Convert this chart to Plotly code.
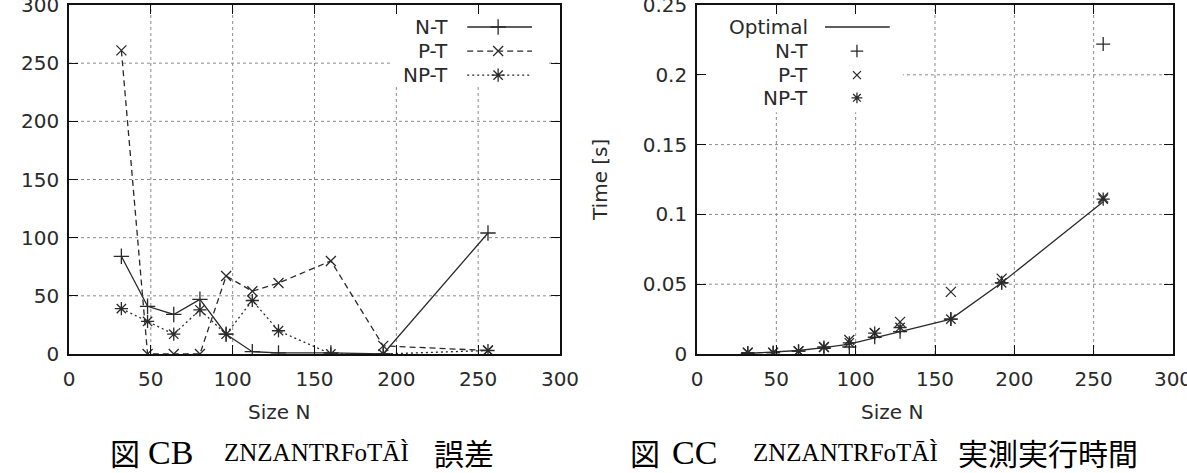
import plotly.graph_objects as go

# ---------------- data ----------------
sizes = [32, 48, 64, 80, 96, 112, 128, 160, 192, 256]

err_nt = [84, 41, 34, 47, 17, 2, 1, 1, 0, 104]
err_pt = [261, 0, 0, 0, 67, 54, 61, 80, 7, 3]
err_npt = [39, 28, 17, 38, 17, 46, 20, 0, 0, 3]

time_opt = [0.0004, 0.0012, 0.0025, 0.0045, 0.007, 0.0115, 0.016, 0.025, 0.051, 0.109]
time_nt = [0.0005, 0.001, 0.002, 0.004, 0.005, 0.012, 0.016, 0.025, 0.051, 0.222]
time_pt = [0.001, 0.001, 0.002, 0.005, 0.010, 0.015, 0.023, 0.0445, 0.054, 0.112]
time_npt = [0.001, 0.001, 0.002, 0.005, 0.008, 0.015, 0.019, 0.025, 0.051, 0.111]

x_ticks = [0, 50, 100, 150, 200, 250, 300]
err_ticks = [0, 50, 100, 150, 200, 250, 300]
time_ticks = [0, 0.05, 0.1, 0.15, 0.2, 0.25]
time_tick_text = ["0", "0.05", "0.1", "0.15", "0.2", "0.25"]

legend_left = ["N-T", "P-T", "NP-T"]
legend_right = ["Optimal", "N-T", "P-T", "NP-T"]

# ---------------- style ----------------
W, H = 1187, 473
INK = "#2a2a2a"
FONT = "DejaVu Sans"
FS = 20

def px_x(p):
    return p / W

def px_y(p):
    return (H - p) / H

left_dom = [px_x(69), px_x(560)]
right_dom = [px_x(697), px_x(1173)]
y_dom = [px_y(354), px_y(5)]

sym_nt = "cross-thin-open"
sym_pt = "x-thin-open"
sym_npt = "asterisk-open"

def mk(sym, size=11):
    return dict(symbol=sym, size=size, color=INK, line=dict(color=INK, width=1.3))

fig = go.Figure()

# left chart: error
fig.add_trace(go.Scatter(x=sizes, y=err_nt, mode="lines+markers", xaxis="x", yaxis="y",
                         line=dict(color=INK, width=1.3), marker=mk(sym_nt), showlegend=False))
fig.add_trace(go.Scatter(x=sizes, y=err_pt, mode="lines+markers", xaxis="x", yaxis="y",
                         line=dict(color=INK, width=1.3, dash="6px,4px"), marker=mk(sym_pt, 10),
                         showlegend=False))
fig.add_trace(go.Scatter(x=sizes, y=err_npt, mode="lines+markers", xaxis="x", yaxis="y",
                         line=dict(color=INK, width=1.3, dash="2px,3px"), marker=mk(sym_npt),
                         showlegend=False))

# right chart: time
fig.add_trace(go.Scatter(x=sizes, y=time_opt, mode="lines", xaxis="x2", yaxis="y2",
                         line=dict(color=INK, width=1.3), showlegend=False))
fig.add_trace(go.Scatter(x=sizes, y=time_nt, mode="markers", xaxis="x2", yaxis="y2",
                         marker=mk(sym_nt, 10), showlegend=False))
fig.add_trace(go.Scatter(x=sizes, y=time_pt, mode="markers", xaxis="x2", yaxis="y2",
                         marker=mk(sym_pt, 10), showlegend=False))
fig.add_trace(go.Scatter(x=sizes, y=time_npt, mode="markers", xaxis="x2", yaxis="y2",
                         marker=mk(sym_npt), showlegend=False))

# ---------------- gnuplot-style keys (overlay axes 0..1) ----------------
left_rows = [0.937, 0.868, 0.799]
left_styles = [("solid", sym_nt, 11), ("6px,4px", sym_pt, 10), ("2px,3px", sym_npt, 11)]
for name, yy, (dash, sym, sz) in zip(legend_left, left_rows, left_styles):
    fig.add_trace(go.Scatter(x=[0.811, 0.943], y=[yy, yy], mode="lines", xaxis="x3", yaxis="y3",
                             line=dict(color=INK, width=1.3, dash=dash), showlegend=False,
                             hoverinfo="skip"))
    fig.add_trace(go.Scatter(x=[0.874], y=[yy], mode="markers", xaxis="x3", yaxis="y3",
                             marker=mk(sym, sz), showlegend=False, hoverinfo="skip"))

right_rows = [0.937, 0.868, 0.799, 0.734]
fig.add_trace(go.Scatter(x=[0.269, 0.405], y=[right_rows[0]] * 2, mode="lines", xaxis="x4", yaxis="y4",
                         line=dict(color=INK, width=1.3), showlegend=False, hoverinfo="skip"))
for yy, (sym, sz) in zip(right_rows[1:], [(sym_nt, 9), (sym_pt, 8), (sym_npt, 9)]):
    fig.add_trace(go.Scatter(x=[0.336], y=[yy], mode="markers", xaxis="x4", yaxis="y4",
                             marker=mk(sym, sz), showlegend=False, hoverinfo="skip"))

annotations = []
for name, yy in zip(legend_left, left_rows):
    annotations.append(dict(text=name, x=0.776, y=yy, xref="x3", yref="y3", xanchor="right",
                            yanchor="middle", showarrow=False, font=dict(family=FONT, size=FS, color=INK)))
for name, yy in zip(legend_right, right_rows):
    annotations.append(dict(text=name, x=0.237, y=yy, xref="x4", yref="y4", xanchor="right",
                            yanchor="middle", showarrow=False, font=dict(family=FONT, size=FS, color=INK)))

# axis titles
annotations.append(dict(text="Size N", x=px_x(279), y=px_y(412), xref="paper", yref="paper",
                        xanchor="center", yanchor="middle",
                        showarrow=False, font=dict(family=FONT, size=FS, color=INK)))
annotations.append(dict(text="Size N", x=px_x(892), y=px_y(412), xref="paper", yref="paper",
                        xanchor="center", yanchor="middle",
                        showarrow=False, font=dict(family=FONT, size=FS, color=INK)))
annotations.append(dict(text="Time [s]", x=px_x(600), y=px_y(180), xref="paper", yref="paper",
                        xanchor="center", yanchor="middle",
                        textangle=-90, showarrow=False, font=dict(family=FONT, size=FS, color=INK)))

# captions
CJK = "Noto Sans CJK JP"
cap_y = px_y(452)
def cap(text, xpx, fam, size):
    annotations.append(dict(text=text, x=px_x(xpx), y=cap_y, xref="paper", yref="paper",
                            xanchor="left", yanchor="middle", showarrow=False,
                            font=dict(family=fam, size=size, color="#000")))

cap("図", 108, CJK, 30)
cap("CB", 146, "Liberation Serif", 34)
cap("ZNZANTRFoTĀÌ", 222, "Liberation Serif", 25)
cap("誤差", 432, CJK, 30)

cap("図", 628, CJK, 30)
cap("CC", 670, "Liberation Serif", 34)
cap("ZNZANTRFoTĀÌ", 751, "Liberation Serif", 25)
cap("実測実行時間", 956, CJK, 30)

# ---------------- grid drawn as dotted shapes, then white key boxes over it ----------------
GRID = dict(color="#8a8a8a", width=1, dash="dot")
shapes = []
for xr, yr, xt, yt in [("x", "y", x_ticks, err_ticks), ("x2", "y2", x_ticks, time_ticks)]:
    for t in xt[1:-1]:
        shapes.append(dict(type="line", xref=xr, yref=yr + " domain", x0=t, x1=t, y0=0, y1=1,
                           line=GRID, layer="below"))
    for t in yt[1:-1]:
        shapes.append(dict(type="line", xref=xr + " domain", yref=yr, x0=0, x1=1, y0=t, y1=t,
                           line=GRID, layer="below"))
shapes.append(dict(type="rect", xref="x domain", yref="y domain", x0=0.66, x1=0.975, y0=0.771, y1=1.0,
                   fillcolor="white", line=dict(width=0), layer="below"))
shapes.append(dict(type="rect", xref="x2 domain", yref="y2 domain", x0=0.004, x1=0.433, y0=0.693, y1=1.0,
                   fillcolor="white", line=dict(width=0), layer="below"))

axis_common = dict(
    showline=True, linecolor="#111", linewidth=1.6, mirror="ticks",
    ticks="inside", ticklen=9, tickwidth=1.3, tickcolor="#111", automargin=False,
    ticklabeloverflow="allow",
    showgrid=False, zeroline=False, tickfont=dict(family=FONT, size=FS, color=INK),
)

fig.update_layout(
    width=W, height=H,
    margin=dict(l=0, r=0, t=0, b=0, autoexpand=False),
    paper_bgcolor="white", plot_bgcolor="white",
    xaxis=dict(domain=left_dom, anchor="y", range=[0, 300], tickvals=x_ticks,
               ticklabelstandoff=6, **axis_common),
    yaxis=dict(domain=y_dom, anchor="x", range=[0, 300], tickvals=err_ticks,
               ticklabelstandoff=4, **axis_common),
    xaxis2=dict(domain=right_dom, anchor="y2", range=[0, 300], tickvals=x_ticks,
                ticklabelstandoff=6, **axis_common),
    yaxis2=dict(domain=y_dom, anchor="x2", range=[0, 0.25], tickvals=time_ticks,
                ticktext=time_tick_text, ticklabelstandoff=4, **axis_common),
    xaxis3=dict(domain=left_dom, anchor="y3", range=[0, 1], visible=False, overlaying="x"),
    yaxis3=dict(domain=y_dom, anchor="x3", range=[0, 1], visible=False, overlaying="y"),
    xaxis4=dict(domain=right_dom, anchor="y4", range=[0, 1], visible=False, overlaying="x2"),
    yaxis4=dict(domain=y_dom, anchor="x4", range=[0, 1], visible=False, overlaying="y2"),
    annotations=annotations,
    shapes=shapes,
    showlegend=False,
)

fig.write_html("out.html")
